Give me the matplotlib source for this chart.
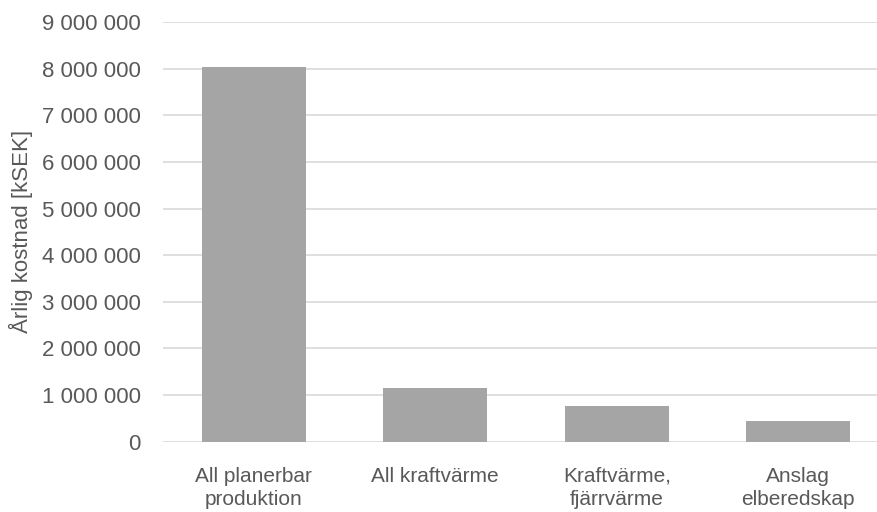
import matplotlib
matplotlib.use("Agg")
import matplotlib.pyplot as plt
from matplotlib.ticker import FuncFormatter, MultipleLocator

categories = ["All planerbar\nproduktion", "All kraftvärme",
              "Kraftvärme,\nfjärrvärme", "Anslag\nelberedskap"]
values = [8030000, 1157000, 765000, 437000]
y_label = "Årlig kostnad [kSEK]"

plt.rcParams["font.family"] = ["Liberation Sans", "DejaVu Sans"]
text_color = "#595959"
bar_color = "#A5A5A5"
grid_color = "#D9D9D9"

fig = plt.figure(figsize=(8.77, 5.12), dpi=100)
W, H = 877, 512
left, right, top, bottom = 163, 877, 22, 441.7
ax = fig.add_axes([left / W, 1 - bottom / H, (right - left) / W, (bottom - top) / H])

x = range(len(categories))
ax.bar(x, values, width=0.573, color=bar_color, zorder=3)

ax.set_ylim(0, 9000000)
ax.yaxis.set_major_locator(MultipleLocator(1000000))
ax.yaxis.set_major_formatter(FuncFormatter(lambda v, p: f"{int(v):,}".replace(",", " ")))
ax.set_xlim(-0.5, 3.434)
ax.set_xticks(list(x))
ax.set_xticklabels(categories, linespacing=1.3)

ax.grid(axis="y", color=grid_color, linewidth=1.2, zorder=0)
for s in ax.spines.values():
    s.set_visible(False)
ax.tick_params(axis="both", length=0, colors=text_color)
ax.tick_params(axis="y", pad=16, labelsize=16)
ax.tick_params(axis="x", pad=18, labelsize=15)

ax.set_ylabel(y_label, fontsize=16, color=text_color)
ax.yaxis.set_label_coords(-(left - 33) / (right - left), 0.5)

fig.savefig("out.png", dpi=100)
